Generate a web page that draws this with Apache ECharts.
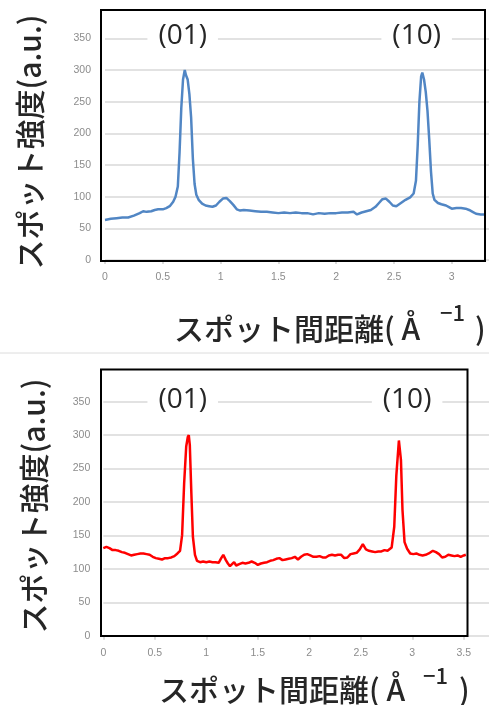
<!DOCTYPE html>
<html><head><meta charset="utf-8">
<script src="https://cdn.jsdelivr.net/npm/echarts@6/dist/echarts.min.js"></script>
<style>html,body{margin:0;padding:0;background:#fff}#c{width:489px;height:705px}</style>
</head><body><div id="c"></div>
<script>
// Top chart (blue)
const topX = [0.00,0.05,0.10,0.15,0.20,0.25,0.30,0.33,0.36,0.40,0.43,0.46,0.50,0.53,0.56,0.59,0.61,0.63,0.645,0.66,0.675,0.69,0.70,0.715,0.73,0.745,0.76,0.775,0.79,0.81,0.84,0.87,0.90,0.93,0.96,0.99,1.02,1.05,1.08,1.11,1.14,1.17,1.20,1.25,1.30,1.35,1.40,1.45,1.50,1.55,1.60,1.65,1.70,1.75,1.80,1.85,1.90,1.95,2.00,2.05,2.10,2.15,2.18,2.22,2.26,2.30,2.34,2.37,2.40,2.43,2.46,2.49,2.52,2.56,2.60,2.64,2.67,2.69,2.705,2.72,2.735,2.745,2.76,2.775,2.79,2.805,2.82,2.835,2.85,2.88,2.91,2.95,2.98,3.00,3.04,3.08,3.12,3.15,3.18,3.21,3.25,3.29];
const topY = [63,65,66,67,67,70,74,77,76,77,79,80,80,82,85,92,100,116,170,240,285,300,292,285,262,225,160,120,103,95,89,86,85,84,86,92,97,98,93,87,80,78,79,78,77,76,76,75,74,75,74,75,74,74,72,74,73,74,74,75,75,76,72,75,77,79,84,90,96,97,92,86,85,90,95,99,105,125,180,250,290,296,285,265,235,190,140,105,95,90,88,86,83,81,82,82,81,79,76,73,72,72];
// Bottom chart (red)
const botX = [0.00,0.03,0.06,0.09,0.12,0.15,0.18,0.21,0.24,0.27,0.30,0.33,0.36,0.39,0.42,0.45,0.48,0.51,0.54,0.57,0.60,0.63,0.66,0.69,0.72,0.745,0.765,0.785,0.805,0.82,0.83,0.84,0.855,0.87,0.89,0.91,0.94,0.97,1.00,1.03,1.06,1.09,1.12,1.145,1.165,1.19,1.21,1.23,1.25,1.27,1.29,1.32,1.35,1.38,1.41,1.44,1.47,1.50,1.53,1.56,1.59,1.62,1.65,1.68,1.71,1.74,1.77,1.80,1.83,1.86,1.89,1.92,1.95,1.98,2.01,2.04,2.07,2.10,2.13,2.16,2.19,2.22,2.25,2.28,2.31,2.34,2.37,2.40,2.43,2.46,2.49,2.52,2.55,2.58,2.61,2.64,2.67,2.70,2.73,2.76,2.80,2.825,2.845,2.87,2.89,2.905,2.925,2.95,2.98,3.01,3.04,3.07,3.10,3.13,3.16,3.20,3.23,3.26,3.29,3.32,3.35,3.38,3.41,3.44,3.47,3.50,3.52];
const botY = [131,133,131,128,128,127,125,124,122,120,121,122,123,123,122,121,118,116,115,114,116,116,117,119,123,127,150,228,283,297,300,285,213,148,121,112,110,111,110,111,110,110,109,116,121,113,108,104,107,110,105,107,109,108,109,111,109,106,108,109,110,112,113,115,116,113,114,115,116,118,114,118,121,122,120,118,118,119,117,117,120,121,120,121,121,116,117,122,123,124,129,137,129,127,126,125,126,126,128,127,132,163,239,292,263,188,140,130,123,122,123,121,120,121,123,127,125,122,117,118,121,120,119,120,118,120,121];
const yTicks = [0,50,100,150,200,250,300,350];
const peakNames = ['(01)','(10)'];
const topPeakX = [0.672, 2.696];
const botPeakX = [0.771, 2.95];
const yTitle = 'スポット強度(a.u.)';
const xTitleMain = 'スポット間距離( Å';
const xTitleSup = '−1';
const xTitleEnd = ')';

const pair = (xs, ys) => xs.map((x, i) => [x, ys[i]]);
const fmtX = v => (Math.abs(v * 2 - Math.round(v * 2)) < 1e-6 ? String(v) : '');
const titleFont = '"Noto Sans CJK JP", "Noto Sans", sans-serif';

function xAxis(gi, max, margin) {
  return {
    type: 'value', gridIndex: gi, min: 0, max: max, interval: 0.5,
    axisLine: { show: false },
    axisTick: { show: true, length: 4, lineStyle: { color: '#d0d0d0', width: 1.5 } },
    splitLine: { show: false },
    axisLabel: { formatter: fmtX, fontSize: 10.5, color: '#8c8c8c', margin: margin, showMaxLabel: false, fontFamily: 'Liberation Sans' }
  };
}
function yAxis(gi, margin) {
  return {
    type: 'value', gridIndex: gi, min: 0, max: 350, interval: 50,
    axisLine: { show: false }, axisTick: { show: false },
    splitLine: { lineStyle: { color: '#d9d9d9', width: 1.5 } },
    axisLabel: { fontSize: 10.5, color: '#8c8c8c', margin: margin, fontFamily: 'Liberation Sans' }
  };
}
function peakMarks(xs) {
  return {
    symbol: 'circle', symbolSize: 1, itemStyle: { color: 'rgba(0,0,0,0)' },
    data: xs.map((x, i) => ({ coord: [x, 350], label: { formatter: peakNames[i] } })),
    label: {
      show: true, position: 'inside', offset: [0, -2],
      fontSize: 28, color: '#262626', fontFamily: '"Open Sans", sans-serif',
      backgroundColor: '#ffffff', padding: [0, 11]
    }
  };
}

const chart = echarts.init(document.getElementById('c'), null, { renderer: 'canvas' });
chart.setOption({
  backgroundColor: '#ffffff',
  animation: false,
  grid: [
    { left: 105, right: 0, top: 38.3, height: 221.7 },
    { left: 103.3, right: 0, top: 401.7, height: 234 }
  ],
  xAxis: [xAxis(0, 3.322, 12), xAxis(1, 3.745, 12)],
  yAxis: [yAxis(0, 14), yAxis(1, 13)],
  series: [
    { type: 'line', xAxisIndex: 0, yAxisIndex: 0, data: pair(topX, topY), showSymbol: false,
      lineStyle: { color: '#5186c4', width: 2.5 }, markPoint: peakMarks(topPeakX) },
    { type: 'line', xAxisIndex: 1, yAxisIndex: 1, data: pair(botX, botY), showSymbol: false,
      lineStyle: { color: '#ff0000', width: 2.5 }, markPoint: peakMarks(botPeakX) }
  ],
  graphic: [
    { type: 'line', shape: { x1: 0, y1: 353, x2: 489, y2: 353 }, style: { stroke: '#dcdcdc', lineWidth: 1 }, z: 10 },
    { type: 'rect', shape: { x: 101, y: 10, width: 384, height: 251 }, style: { fill: 'none', stroke: '#000', lineWidth: 2 }, z: 100 },
    { type: 'rect', shape: { x: 101, y: 369.5, width: 366.5, height: 266.5 }, style: { fill: 'none', stroke: '#000', lineWidth: 2 }, z: 100 },
    // y titles
    { type: 'text', x: 30, y: 142, rotation: Math.PI / 2, z: 100,
      style: { text: yTitle, font: '500 30px ' + titleFont, fill: '#262626', textAlign: 'center', textVerticalAlign: 'middle' } },
    { type: 'text', x: 34, y: 506, rotation: Math.PI / 2, z: 100,
      style: { text: yTitle, font: '500 30px ' + titleFont, fill: '#262626', textAlign: 'center', textVerticalAlign: 'middle' } },
    // x titles (top)
    { type: 'text', x: 174, y: 329, z: 100,
      style: { text: xTitleMain, font: '500 30px ' + titleFont, fill: '#262626', textAlign: 'left', textVerticalAlign: 'middle' } },
    { type: 'text', x: 440, y: 313, z: 100,
      style: { text: xTitleSup, font: '500 22px ' + titleFont, fill: '#262626', textAlign: 'left', textVerticalAlign: 'middle' } },
    { type: 'text', x: 475, y: 329, z: 100,
      style: { text: xTitleEnd, font: '500 30px ' + titleFont, fill: '#262626', textAlign: 'left', textVerticalAlign: 'middle' } },
    // x titles (bottom)
    { type: 'text', x: 159, y: 690, z: 100,
      style: { text: xTitleMain, font: '500 30px ' + titleFont, fill: '#262626', textAlign: 'left', textVerticalAlign: 'middle' } },
    { type: 'text', x: 423, y: 676, z: 100,
      style: { text: xTitleSup, font: '500 22px ' + titleFont, fill: '#262626', textAlign: 'left', textVerticalAlign: 'middle' } },
    { type: 'text', x: 459, y: 690, z: 100,
      style: { text: xTitleEnd, font: '500 30px ' + titleFont, fill: '#262626', textAlign: 'left', textVerticalAlign: 'middle' } }
  ]
});
</script>
</body></html>
